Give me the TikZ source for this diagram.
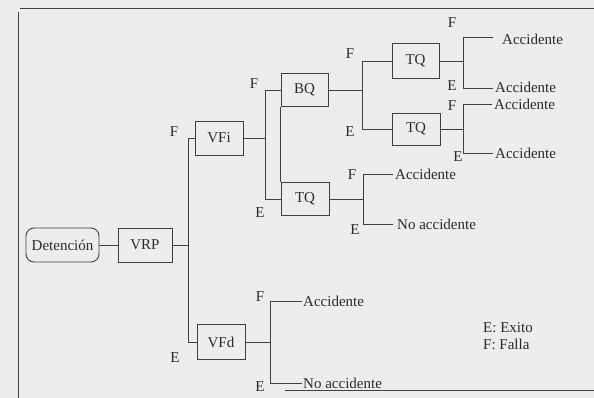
\documentclass[tikz,border=0pt]{standalone}
\usepackage{fontspec}
\setmainfont{Liberation Serif}
\definecolor{bgc}{HTML}{EDEDED}
\definecolor{linec}{HTML}{404040}
\definecolor{textc}{HTML}{2A2A2A}
\begin{document}
\begin{tikzpicture}[x=1pt,y=-1pt,
  every node/.style={text=textc, font=\fontsize{15}{17}\selectfont},
  conn/.style={draw=linec, line width=0.9pt},
  box/.style={draw=linec, line width=0.9pt, minimum height=34pt, minimum width=47pt, inner sep=0pt},
  rbox/.style={box, rounded corners=8pt, minimum width=73pt},
  outc/.style={anchor=west, inner xsep=2pt, inner ysep=0pt},
  lbl/.style={inner sep=0pt}]
\useasboundingbox (0,0) rectangle (594,398);
\fill[bgc] (0,0) rectangle (594,398);
% frame
\draw[linec, line width=0.9pt] (20,8) -- (594,8);
\draw[linec, line width=0.9pt] (18,12) -- (18,398);
\draw[linec, line width=0.9pt] (285,390) -- (594,390);

% boxes
\node[rbox] (det) at (62.5,245) {Detención};
\node[box, minimum width=54pt] (vrp) at (145,245) {VRP};
\node[box, minimum width=48pt] (vfi) at (219,138) {VFi};
\node[box, minimum width=48pt, minimum height=35pt] (vfd) at (221,342) {VFd};
\node[box, minimum height=33pt] (bq) at (304.5,90) {BQ};
\node[box, minimum width=48pt, minimum height=33pt] (tqa) at (305,199) {TQ};
\node[box, minimum height=35pt] (tqb) at (415.5,61) {TQ};
\node[box, minimum width=48pt, minimum height=32pt] (tqc) at (416,129) {TQ};

% branch points
\coordinate (s1) at (188,245);
\coordinate (s2) at (265,138);
\coordinate (s3) at (362,90);
\coordinate (s4) at (463,61);
\coordinate (s5) at (463,129);
\coordinate (s6) at (363,199);
\coordinate (s7) at (270,342);

% outcome texts
\node[outc, inner xsep=9pt] (o1) at (493,39) {Accidente};
\node[outc] (o2) at (493,87) {Accidente};
\node[outc] (o3) at (492,104) {Accidente};
\node[outc] (o4) at (493,153) {Accidente};
\node[outc] (o5) at (393,174) {Accidente};
\node[outc, inner xsep=4pt] (o6) at (393,224) {No accidente};
\node[outc, inner xsep=1pt] (o7) at (302,301) {Accidente};
\node[outc, inner xsep=1pt] (o8) at (302,383) {No accidente};

% connectors
\draw[conn] (det) -- (vrp);
\draw[conn] (vrp) -- (s1);
\draw[conn] (s1 |- vfi.west) -- (s1 |- vfd.west);
\draw[conn] (s1 |- vfi.west) -- (vfi.west);
\draw[conn] (s1 |- vfd.west) -- (vfd.west);

\draw[conn] (vfi.east) -- (s2);
\draw[conn] (s2 |- bq.west) -- (s2 |- tqa.west);
\draw[conn] (s2 |- bq.west) -- (bq.west);
\draw[conn] (s2 |- tqa.west) -- (tqa.west);
\draw[conn] (bq.south west) -- (tqa.north west);

\draw[conn] (bq.east) -- (s3);
\draw[conn] (s3 |- tqb.west) -- (s3 |- tqc.west);
\draw[conn] (s3 |- tqb.west) -- (tqb.west);
\draw[conn] (s3 |- tqc.west) -- (tqc.west);

\draw[conn] (tqb.east) -- (s4);
\draw[conn] (s4 |- 0,37) -- (s4 |- 0,88);
\draw[conn] (s4 |- 0,37) -- (o1.west |- 0,37);
\draw[conn] (s4 |- 0,88) -- (o2.west |- 0,88);

\draw[conn] (tqc.east) -- (s5);
\draw[conn] (s5 |- o3.west) -- (s5 |- o4.west);
\draw[conn] (s5 |- o3.west) -- (o3.west);
\draw[conn] (s5 |- o4.west) -- (o4.west);

\draw[conn] (tqa.east) -- (s6);
\draw[conn] (s6 |- o5.west) -- (s6 |- o6.west);
\draw[conn] (s6 |- o5.west) -- (o5.west);
\draw[conn] (s6 |- o6.west) -- (o6.west);

\draw[conn] (vfd.east) -- (s7);
\draw[conn] (s7 |- o7.west) -- (s7 |- o8.west);
\draw[conn] (s7 |- o7.west) -- (o7.west);
\draw[conn] (s7 |- o8.west) -- (o8.west);

% F / E labels
\node[lbl] (f1) at (174,132) {F};
\node[lbl] (e1) at (175,358) {E};
\node[lbl] (f2) at (254,84) {F};
\node[lbl] (e2) at (260,213) {E};
\node[lbl] (f3) at (350,54) {F};
\node[lbl] (e3) at (350,132) {E};
\node[lbl] (f4) at (452,23) {F};
\node[lbl] (e4) at (452,86) {E};
\node[lbl] (f5) at (452,106) {F};
\node[lbl] (e5) at (458,157) {E};
\node[lbl] (f6) at (352,175) {F};
\node[lbl] (e6) at (355,230) {E};
\node[lbl] (f7) at (260,297) {F};
\node[lbl] (e7) at (260,387) {E};

% legend
\node[anchor=west, align=left, inner sep=0pt] (leg) at (483,336) {E: Exito\\F: Falla};
\end{tikzpicture}
\end{document}
